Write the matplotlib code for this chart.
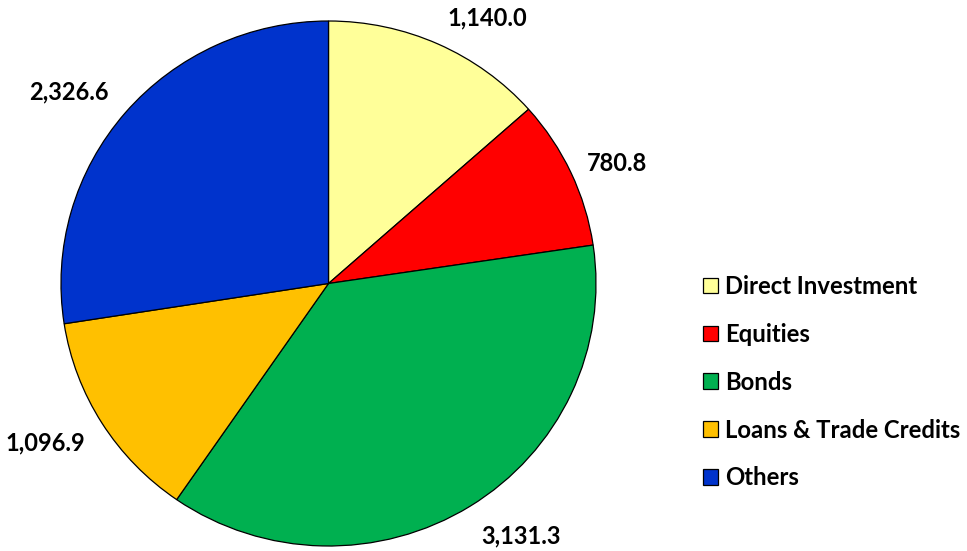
import matplotlib
matplotlib.use("Agg")
import matplotlib.pyplot as plt
import numpy as np

categories = ["Direct Investment", "Equities", "Bonds", "Loans & Trade Credits", "Others"]
values = [1140.0, 780.8, 3131.3, 1096.9, 2326.6]
colors = ["#FFFF99", "#FF0000", "#00B050", "#FFC000", "#0033CC"]

# label offsets (pixels) from the wedge's outer edge at its mid-angle
label_offsets = [(49, -26), (46, -9), (51, 30), (-57, 20), (-56, -21)]

plt.rcParams["font.family"] = ["Lato", "DejaVu Sans"]
plt.rcParams["font.weight"] = "bold"

W, H = 967, 551
fig = plt.figure(figsize=(W / 100, H / 100), dpi=100)
# pie box in pixels: left, top, right, bottom
px_l, px_t, px_r, px_b = 61, 21, 596, 546
ax = fig.add_axes([px_l / W, 1 - px_b / H, (px_r - px_l) / W, (px_b - px_t) / H])

wedges, _ = ax.pie(values, colors=colors, startangle=90, counterclock=False,
                   wedgeprops=dict(edgecolor="black", linewidth=0.9))
ax.set_aspect("auto")
ax.set_xlim(-1, 1)
ax.set_ylim(-1, 1)
ax.axis("off")

px2pt = 72 / 100
total = sum(values)
cum = 0.0
for v, (dx, dy) in zip(values, label_offsets):
    mid = (cum + v / 2) / total
    cum += v
    theta = np.deg2rad(90 - 360 * mid)
    ax.annotate(f"{v:,.1f}", xy=(np.cos(theta), np.sin(theta)),
                xytext=(dx * px2pt, -dy * px2pt), textcoords="offset points",
                ha="center", va="center", fontsize=17, fontweight="bold",
                annotation_clip=False)

leg = fig.legend(wedges, categories, loc="upper left",
                 bbox_to_anchor=(703 / W, 1 - 275 / H),
                 frameon=False, fontsize=17.2, borderpad=0,
                 handlelength=0.63, handleheight=0.63, handletextpad=0.3,
                 labelspacing=1.04, borderaxespad=0)
for t in leg.get_texts():
    t.set_fontweight("bold")

fig.savefig("out.png", dpi=100)
